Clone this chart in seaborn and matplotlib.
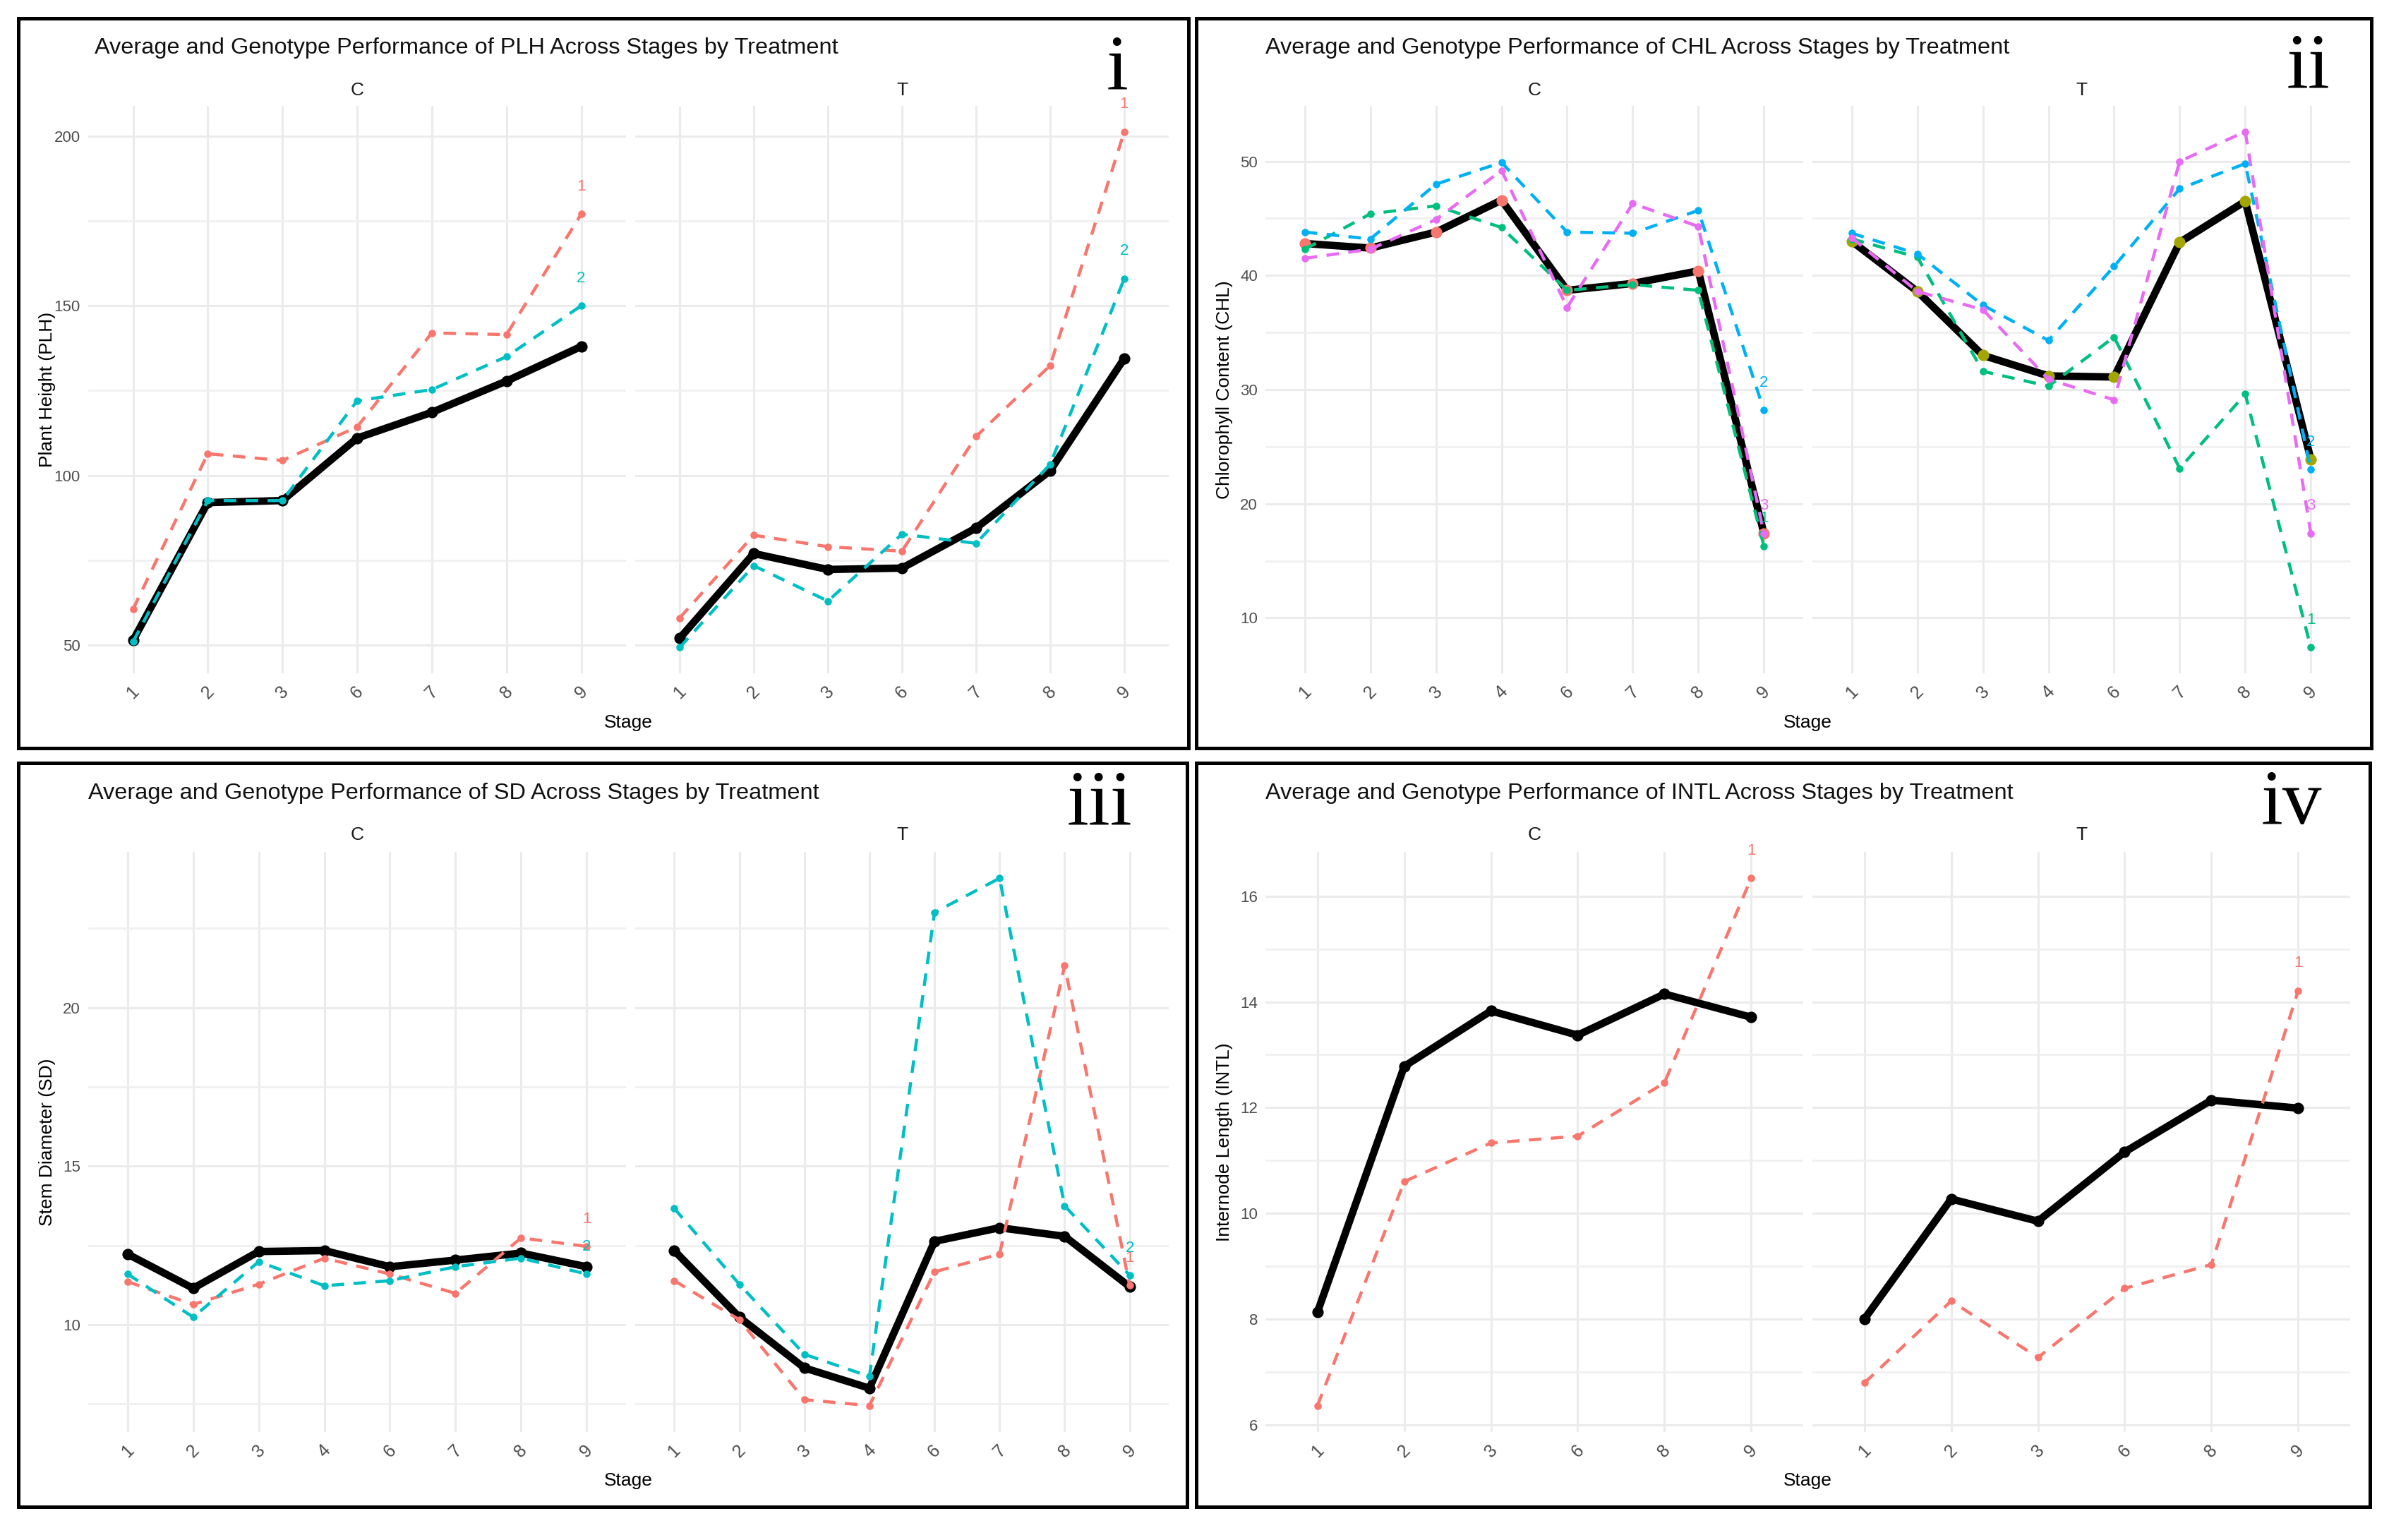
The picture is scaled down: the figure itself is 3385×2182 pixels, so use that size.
import matplotlib
matplotlib.use("Agg")
import matplotlib.pyplot as plt
from matplotlib.patches import Rectangle
from matplotlib.ticker import MultipleLocator
import pandas as pd
import seaborn as sns

# ---- data ----
plh_stages = ["1", "2", "3", "6", "7", "8", "9"]
plh_c_mean = [51.4, 92.0, 92.6, 111.0, 118.6, 127.8, 138.0]
plh_c_g1 = [60.6, 106.4, 104.4, 114.3, 142.0, 141.5, 177.0]
plh_c_g2 = [51.0, 92.6, 92.6, 122.0, 125.3, 135.0, 150.0]
plh_t_mean = [52.0, 77.0, 72.3, 72.7, 84.5, 101.4, 134.5]
plh_t_g1 = [58.0, 82.4, 79.0, 77.7, 111.5, 132.4, 201.3]
plh_t_g2 = [49.3, 73.4, 63.0, 82.7, 80.0, 103.3, 158.0]

chl_stages = ["1", "2", "3", "4", "6", "7", "8", "9"]
chl_c_mean = [42.8, 42.4, 43.8, 46.6, 38.7, 39.3, 40.4, 17.4]
chl_c_g1 = [42.3, 45.4, 46.1, 44.2, 38.7, 39.2, 38.7, 16.3]
chl_c_g2 = [43.8, 43.2, 48.0, 49.9, 43.8, 43.7, 45.7, 28.2]
chl_c_g3 = [41.5, 42.3, 44.9, 49.2, 37.2, 46.3, 44.3, 17.4]
chl_t_mean = [43.0, 38.6, 33.0, 31.2, 31.1, 42.9, 46.5, 23.9]
chl_t_g1 = [43.2, 41.6, 31.6, 30.3, 34.6, 23.1, 29.6, 7.4]
chl_t_g2 = [43.7, 41.9, 37.4, 34.3, 40.8, 47.6, 49.8, 23.0]
chl_t_g3 = [43.3, 38.6, 37.0, 30.9, 29.1, 50.0, 52.6, 17.4]

sd_stages = ["1", "2", "3", "4", "6", "7", "8", "9"]
sd_c_mean = [12.23, 11.15, 12.31, 12.34, 11.83, 12.04, 12.26, 11.83]
sd_c_g1 = [11.36, 10.64, 11.28, 12.10, 11.60, 10.99, 12.74, 12.47]
sd_c_g2 = [11.60, 10.24, 11.99, 11.23, 11.39, 11.83, 12.10, 11.60]
sd_t_mean = [12.34, 10.24, 8.64, 8.00, 12.63, 13.06, 12.79, 11.20]
sd_t_g1 = [11.39, 10.16, 7.64, 7.45, 11.67, 12.23, 21.32, 11.24]
sd_t_g2 = [13.67, 11.28, 9.07, 8.37, 23.00, 24.08, 13.75, 11.56]

intl_stages = ["1", "2", "3", "6", "8", "9"]
intl_c_mean = [8.13, 12.78, 13.83, 13.37, 14.15, 13.71]
intl_c_g1 = [6.36, 10.60, 11.33, 11.46, 12.47, 16.34]
intl_t_mean = [8.00, 10.27, 9.85, 11.16, 12.14, 11.99]
intl_t_g1 = [6.79, 8.34, 7.27, 8.58, 9.03, 14.21]

RED, TEAL = "#F8766D", "#00BFC4"
OLIVE, GREEN, BLUE, PINK = "#A3A500", "#00BF7D", "#00B0F6", "#E76BF3"

# ---- figure ----
sns.set_theme(style="whitegrid")
plt.rcParams["font.family"] = ["Liberation Sans", "DejaVu Sans"]

W, H = 3385, 2182
fig = plt.figure(figsize=(W / 200, H / 200), dpi=200)
fig.patch.set_facecolor("white")


def fx(x):
    return x / W


def fy(y):
    return 1 - y / H


def make_ax(x0, x1, y0, y1):
    return fig.add_axes([fx(x0), fy(y1), (x1 - x0) / W, (y1 - y0) / H])


panels = [
    dict(var="PLH", ylab="Plant Height (PLH)", stages=plh_stages, num="i",
         mean=(plh_c_mean, plh_t_mean), mean_col=("black", "black"),
         geno=[("1", RED, plh_c_g1, plh_t_g1), ("2", TEAL, plh_c_g2, plh_t_g2)],
         major=50, minor=25,
         border=(26, 26, 1684, 1060), cx=(125, 887), tx=(900, 1656), ay=(150, 954),
         title_xy=(134, 68), strip_y=128, num_xy=(1583, 126), ylab_x=67, stage_y=1024),
    dict(var="CHL", ylab="Chlorophyll Content (CHL)", stages=chl_stages, num="ii",
         mean=(chl_c_mean, chl_t_mean), mean_col=(RED, OLIVE),
         geno=[("1", GREEN, chl_c_g1, chl_t_g1), ("2", BLUE, chl_c_g2, chl_t_g2),
               ("3", PINK, chl_c_g3, chl_t_g3)],
         major=10, minor=5,
         border=(1695, 26, 3360, 1060), cx=(1793, 2555), tx=(2568, 3330), ay=(150, 954),
         title_xy=(1793, 68), strip_y=128, num_xy=(3270, 123), ylab_x=1735, stage_y=1024),
    dict(var="SD", ylab="Stem Diameter (SD)", stages=sd_stages, num="iii",
         mean=(sd_c_mean, sd_t_mean), mean_col=("black", "black"),
         geno=[("1", RED, sd_c_g1, sd_t_g1), ("2", TEAL, sd_c_g2, sd_t_g2)],
         major=5, minor=2.5,
         border=(26, 1081, 1682, 2135), cx=(125, 887), tx=(900, 1656), ay=(1207, 2029),
         title_xy=(125, 1124), strip_y=1183, num_xy=(1558, 1167), ylab_x=67, stage_y=2098),
    dict(var="INTL", ylab="Internode Length (INTL)", stages=intl_stages, num="iv",
         mean=(intl_c_mean, intl_t_mean), mean_col=("black", "black"),
         geno=[("1", RED, intl_c_g1, intl_t_g1)],
         major=2, minor=1,
         border=(1695, 1081, 3358, 2135), cx=(1793, 2555), tx=(2568, 3330), ay=(1207, 2029),
         title_xy=(1793, 1124), strip_y=1183, num_xy=(3247, 1167), ylab_x=1735, stage_y=2098),
]

for p in panels:
    allv = list(p["mean"][0]) + list(p["mean"][1])
    for g in p["geno"]:
        allv += list(g[2]) + list(g[3])
    lo, hi = min(allv), max(allv)
    pad = 0.05 * (hi - lo)

    for k, (facet, xr) in enumerate([("C", p["cx"]), ("T", p["tx"])]):
        ax = make_ax(xr[0], xr[1], p["ay"][0], p["ay"][1])
        ax.set_facecolor("white")
        df = pd.DataFrame({"Stage": p["stages"], "Mean": p["mean"][k]})
        sns.lineplot(data=df, x="Stage", y="Mean", ax=ax, color="black", lw=3.8,
                     sort=False, zorder=3)
        sns.scatterplot(data=df, x="Stage", y="Mean", ax=ax, color=p["mean_col"][k],
                        s=34, linewidth=0, zorder=4)
        for lab, col, cvals, tvals in p["geno"]:
            vals = cvals if k == 0 else tvals
            gdf = pd.DataFrame({"Stage": p["stages"], "Value": vals})
            sns.lineplot(data=gdf, x="Stage", y="Value", ax=ax, color=col, lw=1.6,
                         linestyle=(0, (4, 3)), marker="o", markersize=3.8,
                         markeredgewidth=0, sort=False, zorder=5)
            t = ax.annotate(lab, xy=(p["stages"][-1], vals[-1]), xytext=(0, 14),
                            textcoords="offset points", ha="center", va="center",
                            color=col, fontsize=8, zorder=6)
            t.set_clip_on(True)

        n = len(p["stages"])
        ax.set_xlim(-0.6, n - 1 + 0.6)
        ax.set_ylim(lo - pad, hi + pad)
        ax.yaxis.set_major_locator(MultipleLocator(p["major"]))
        ax.yaxis.set_minor_locator(MultipleLocator(p["minor"]))
        ax.grid(which="major", color="#EBEBEB", lw=1.1)
        ax.grid(which="minor", axis="y", color="#EFEFEF", lw=0.9)
        ax.grid(which="major", axis="x", color="#EBEBEB", lw=1.1)
        ax.set_axisbelow(True)
        for s in ax.spines.values():
            s.set_visible(False)
        ax.set_xlabel("")
        ax.set_ylabel("")
        ax.tick_params(axis="both", which="both", length=0, labelsize=8,
                       labelcolor="#4D4D4D", pad=4)
        ax.tick_params(axis="x", labelsize=9, pad=5)
        for tl in ax.get_xticklabels():
            tl.set_rotation(45)
            tl.set_ha("center")
        if k == 1:
            ax.tick_params(axis="y", labelleft=False)
        fig.text(fx((xr[0] + xr[1]) / 2), fy(p["strip_y"]), facet, ha="center",
                 va="center", fontsize=9.5, color="#1A1A1A")

    # panel furniture
    l, t, r, b = p["border"]
    fig.patches.append(Rectangle((fx(l), fy(b)), (r - l) / W, (b - t) / H,
                                 transform=fig.transFigure, fill=False,
                                 edgecolor="black", lw=1.8, zorder=10))
    fig.text(fx(p["title_xy"][0]), fy(p["title_xy"][1]),
             f"Average and Genotype Performance of {p['var']} Across Stages by Treatment",
             ha="left", va="center", fontsize=11.7, color="#111111")
    fig.text(fx(p["num_xy"][0]), fy(p["num_xy"][1]), p["num"], ha="center",
             va="baseline", fontsize=40, family="Liberation Serif", color="black")
    fig.text(fx(p["ylab_x"]), fy((p["ay"][0] + p["ay"][1]) / 2), p["ylab"],
             rotation=90, ha="center", va="center", fontsize=9.5, color="black")
    fig.text(fx((p["cx"][0] + p["tx"][1]) / 2), fy(p["stage_y"]), "Stage",
             ha="center", va="center", fontsize=9.5, color="black")

fig.savefig("out.png", dpi=200, facecolor="white")
